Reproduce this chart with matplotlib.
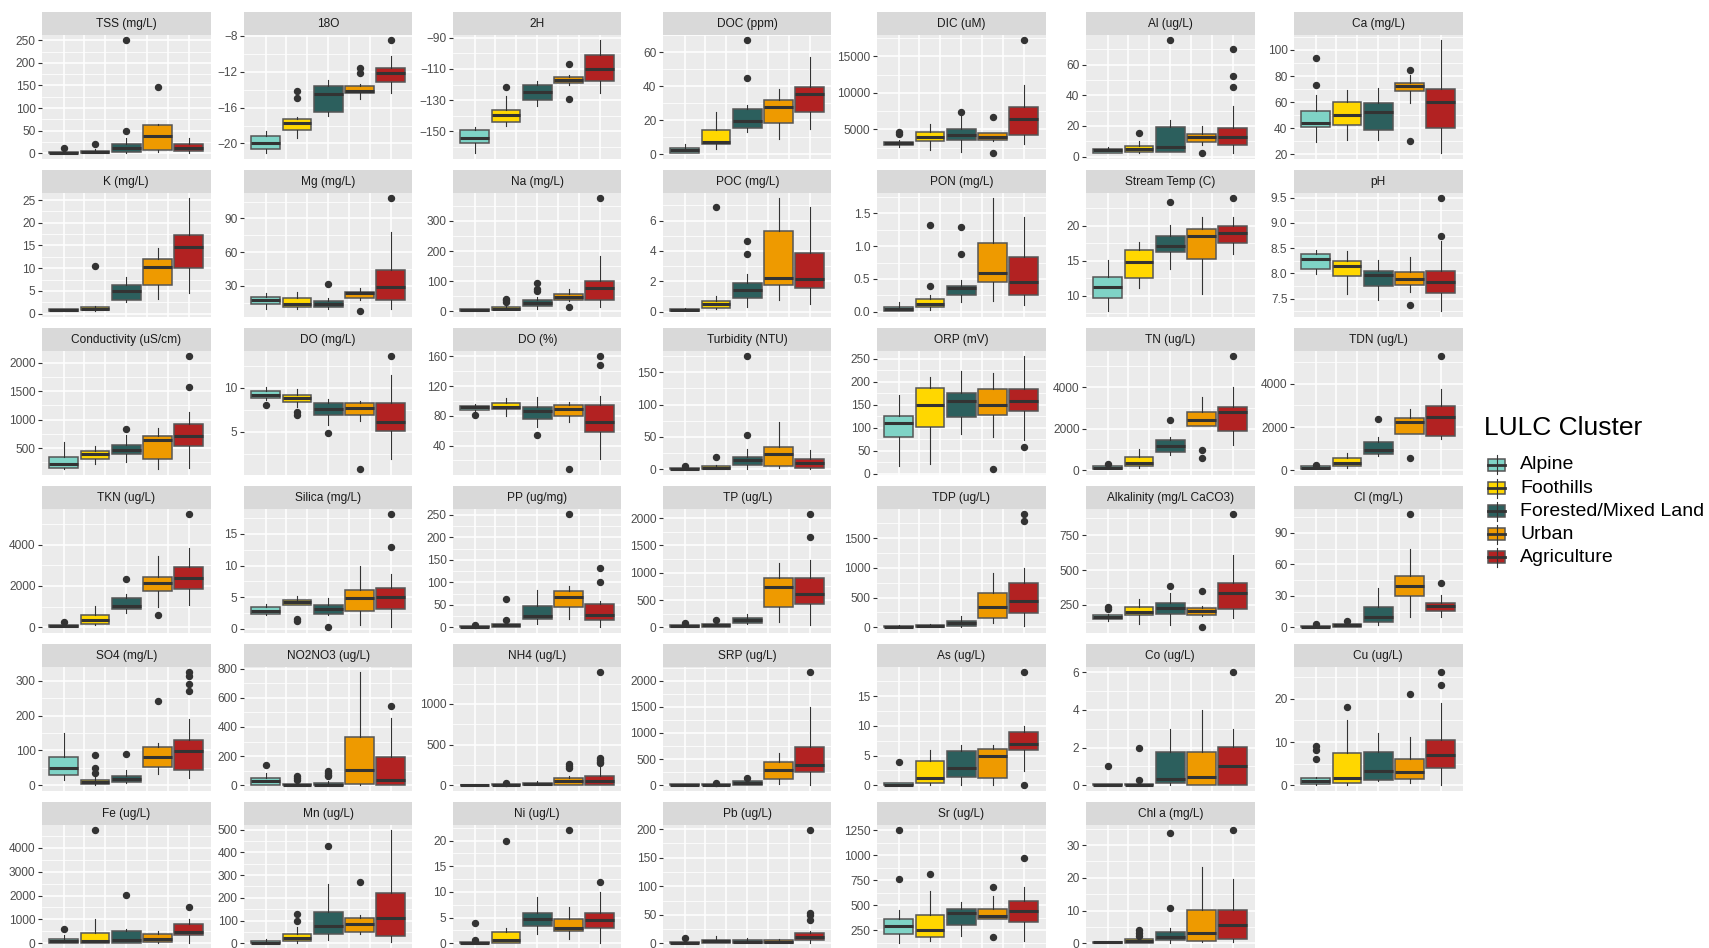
import matplotlib.pyplot as plt
from matplotlib.patches import Rectangle
import numpy as np

# LULC clusters and their fills
clusters = ["Alpine", "Foothills", "Forested/Mixed Land", "Urban", "Agriculture"]
cluster_colors = ["#7FD3C6", "#FFD700", "#2C5F5D", "#EE9A00", "#B22222"]

# box stats per cluster: (whisker low, q1, median, q3, whisker high, outliers)
TSS = [(0, 0.5, 1.5, 3, 6, [12]), (0, 1, 3, 6, 9, [21]), (0, 4, 11, 20, 33, [50, 250]),
       (4, 8, 38, 62, 64, [146]), (0, 5, 11, 21, 33, [])]
O18 = [(-21.1, -20.6, -20.0, -19.2, -18.6, []), (-19.35, -18.45, -17.75, -17.25, -17.0, [-14.9, -14.1]),
       (-16.9, -16.45, -14.5, -13.6, -12.9, []), (-15.1, -14.35, -14.1, -13.6, -13.4, [-12.1, -11.6]),
       (-14.35, -13.15, -12.1, -11.55, -10.25, [-8.5])]
H2 = [(-164.3, -157.8, -154.5, -149.3, -147.4, []), (-147, -144.1, -139.4, -136.4, -127.7, [-121.8]),
      (-133.8, -130.1, -125.1, -120.1, -117.5, []), (-120.5, -119.2, -117.3, -115.3, -114, [-129.6, -106.9]),
      (-125.3, -117.7, -109.7, -100.8, -91.5, [])]
DOC = [(0.4, 0.6, 2.1, 3.5, 5.7, []), (2.7, 5.9, 7.0, 14, 24.6, []), (13.1, 15.4, 19.5, 26.6, 28.7, [45, 67]),
       (8.8, 18, 27.6, 32, 38.5, []), (15, 24.8, 35.4, 39.3, 57.3, [])]
DIC = [(2520, 2890, 3120, 3300, 3490, [4360, 4680]), (2160, 3390, 3945, 4590, 5730, []),
       (1880, 3530, 4270, 5000, 6790, [7430]), (3440, 3530, 3945, 4450, 4540, [1700, 6650]),
       (2980, 4170, 6420, 8030, 11010, [17200])]
Al = [(2.2, 2.4, 4.1, 5.2, 6.1, []), (2.2, 3.0, 4.8, 6.9, 10.4, [15.4]), (3.0, 3.2, 6.1, 19.3, 23.8, [75.8]),
      (7.8, 9.7, 12.8, 15.0, 19.9, [2.4]), (2.6, 7.4, 12.8, 18.4, 32.9, [45.5, 52.6, 70.2])]
Ca = [(29.7, 41.3, 44.4, 53.3, 65.4, [73.1, 93.6]), (31, 42.6, 50.5, 60.5, 69, []),
      (31, 38.7, 52.6, 59.5, 70.5, []), (59.7, 68.2, 72.6, 74.9, 80.8, [30.5, 84.4]),
      (20.8, 40.3, 60.5, 69.7, 107.4, [])]
K = [(0.5, 0.6, 0.8, 1.0, 1.1, []), (0.66, 0.73, 1.1, 1.47, 1.76, [10.4]), (2.5, 3.0, 4.9, 6.3, 8.1, []),
     (3.2, 6.2, 10.3, 12.1, 14.5, []), (4.5, 10.0, 14.7, 17.2, 25.4, [])]
Mg = [(9.2, 14.3, 17.2, 20.2, 24.1, []), (9.2, 11.6, 14.0, 19.3, 24.7, []), (9.2, 11.0, 13.7, 16.6, 19.3, [31.8]),
      (17.8, 19.6, 23.5, 24.7, 28.2, [7.4]), (9.5, 17.2, 29.1, 44.6, 78.1, [108])]
Na = [(0, 0.5, 3.3, 7.7, 9, []), (4.4, 5, 8.8, 13.2, 17.6, [30, 36, 42]), (8.8, 16.5, 28.6, 37.4, 48, [67, 72.5, 93]),
      (35, 37.4, 48.4, 56, 73.6, [13.2]), (13.2, 37.4, 78, 102, 182, [375])]
POC = [(0.02, 0.04, 0.13, 0.2, 0.22, []), (0.18, 0.22, 0.48, 0.68, 1.03, [6.92]),
       (0.3, 0.88, 1.43, 1.89, 2.5, [3.82, 4.66]), (0.79, 1.76, 2.2, 5.3, 7.47, []),
       (0.48, 1.58, 2.13, 3.87, 6.88, [])]
PON = [(0.005, 0.015, 0.046, 0.077, 0.14, []), (0.03, 0.07, 0.11, 0.2, 0.26, [0.39, 1.32]),
       (0.14, 0.26, 0.36, 0.39, 0.49, [0.88, 1.29]), (0.16, 0.45, 0.59, 1.04, 1.73, []),
       (0.1, 0.26, 0.45, 0.84, 1.45, [])]
Temp = [(7.8, 9.67, 11.2, 12.67, 15.1, []), (11.1, 12.5, 14.8, 16.5, 17.7, []),
        (13.8, 16.3, 17.1, 18.5, 20.1, [23.3]), (10.3, 15.2, 18.5, 19.5, 21.3, []),
        (16.0, 17.5, 19.0, 19.9, 21.3, [23.9])]
pH = [(7.99, 8.09, 8.28, 8.39, 8.46, []), (7.59, 7.95, 8.15, 8.24, 8.44, []), (7.47, 7.76, 7.97, 8.05, 8.27, []),
      (7.63, 7.78, 7.89, 8.03, 8.32, [7.38]), (7.25, 7.62, 7.84, 8.04, 8.64, [8.75, 9.49])]
Cond = [(129, 147, 224, 341, 612, []), (224, 312, 394, 453, 541, []), (259, 394, 476, 559, 735, [829]),
        (129, 318, 647, 712, 859, []), (147, 541, 718, 929, 1129, [1576, 2112])]
DO_mg = [(8.6, 8.85, 9.24, 9.62, 10.1, [8.0]), (7.82, 8.43, 8.82, 9.2, 9.92, [6.95, 7.3]),
         (5.8, 6.9, 7.6, 8.24, 8.7, [4.85]), (6.26, 6.95, 7.75, 8.24, 8.5, [0.73]),
         (1.87, 5.04, 6.15, 8.24, 11.5, [13.6])]
DO_pct = [(85, 88.2, 91.4, 93.6, 96.3, [81.4]), (80.5, 88.6, 91.8, 97.2, 104, []),
          (65.7, 76, 86, 92.3, 105.8, [54.4]), (72.4, 80.5, 88.6, 94, 98.6, [8]),
          (22, 58, 72, 94, 106.7, [149, 160.3])]
Turb = [(0, 0.1, 0.5, 2.6, 3.5, [4.6]), (0, 0.2, 2, 4.6, 6, [19]), (1, 7.2, 14.9, 18.5, 31.3, [53.4, 174.6]),
        (2.6, 5.1, 24, 34, 73, []), (1, 2.6, 9.2, 16.4, 29.8, [])]
ORP = [(18.2, 80.7, 111, 125, 170.8, []), (21.8, 102.5, 150.4, 186, 210.8, []),
       (85.8, 122.8, 157.7, 175, 223.8, []), (80.7, 127.9, 150.4, 183.9, 220, [10]),
       (72.7, 135.9, 159.2, 183.9, 255.8, [58])]
TN = [(32, 48, 112, 177, 209, [305]), (96, 177, 337, 626, 1028, []), (723, 883, 1140, 1445, 1606, [2425]),
      (2120, 2120, 2393, 2810, 3549, [594, 980]), (1204, 1879, 2778, 3051, 3999, [5493])]
TDN = [(40, 62, 123, 185, 215, [262]), (123, 200, 354, 554, 800, []), (646, 738, 954, 1323, 1538, [2369]),
       (1677, 1677, 2246, 2400, 2830, [569]), (1446, 1600, 2446, 2984, 3768, [5275])]
TKN = [(0, 0, 65, 129, 161, [274]), (97, 177, 339, 613, 1016, []), (710, 871, 1048, 1435, 1597, [2355]),
       (1000, 1742, 2161, 2452, 3436, [613]), (1097, 1855, 2387, 2936, 3855, [5468])]
Silica = [(2.17, 2.38, 2.91, 3.54, 3.97, []), (3.76, 3.76, 4.18, 4.6, 5.24, [1.32, 1.64]),
          (2.28, 2.38, 3.12, 3.81, 4.92, [0.26]), (0.63, 2.91, 4.87, 6.14, 9.9, []),
          (0.26, 3.17, 5.03, 6.46, 8.73, [12.96, 18.1])]
PP = [(0, 0, 0.7, 3, 4, [5.9]), (0, 0.7, 4.5, 7.4, 10, [15.6, 63.8]), (7.4, 17.8, 25.2, 47.5, 83, []),
      (17.8, 44.5, 67.5, 81.6, 92, [251.5]), (1.5, 16.3, 27.4, 51.2, 58.6, [101, 132.8])]
TP = [(0, 6, 30, 49, 60, [73]), (0, 12, 37, 61, 80, [140]), (61, 79, 134, 177, 238, []),
      (103, 371, 737, 895, 1175, []), (37, 432, 603, 895, 1236, [1650, 2070])]
TDP = [(0, 0, 11, 28, 35, []), (0, 0, 17, 45, 50, []), (11, 28, 72, 106, 190, []),
       (67, 150, 340, 580, 920, []), (28, 245, 435, 747, 998, [1796, 1902])]
Alk = [(137, 149, 163, 175, 187, [221, 236]), (113, 178, 202, 238, 293, []), (106, 185, 228, 264, 339, [385]),
       (173, 178, 207, 231, 240, [89, 353]), (154, 221, 334, 404, 606, [901])]
Cl = [(0, 0, 0.6, 1.6, 2, [3.2]), (0.3, 0.6, 1.9, 3.2, 4, [5.7]), (1.9, 4.8, 9.8, 19.6, 37.4, []),
      (10.1, 29.8, 39.6, 48.5, 74.8, [107.7]), (9.8, 15.2, 20, 23.1, 30.7, [42.1])]
SO4 = [(14.3, 28.6, 50.5, 81.9, 151, []), (0, 2.9, 8.6, 15.2, 25, [34.3, 48.6, 87.6]),
       (6.7, 10.5, 18, 26.7, 44.8, [90.5]), (31.4, 52, 81, 111, 121, [243]),
       (21.9, 42.9, 98, 128.6, 189.5, [270, 291, 313, 324])]
NO2NO3 = [(0, 2.3, 27.5, 52.7, 87, [142]), (0, 0, 2.3, 9, 20, [34, 48, 64]),
          (0, 0, 4.6, 14, 30, [62, 71, 85, 98]), (0, 9, 108, 328, 775, []),
          (0, 0, 39, 192.5, 461, [545])]
NH4 = [(0, 0, 2, 8, 12, []), (0, 0, 4, 16, 20, [25]), (0, 0, 12, 33, 49, []),
       (0, 8, 57, 86, 115, [213, 238, 266]), (0, 4, 49, 115, 234, [275, 287, 307, 336, 1389])]
SRP = [(0, 0, 6, 19, 25, []), (0, 0, 13, 32, 40, [51]), (0, 6, 38, 77, 115, [147]),
       (26, 128, 295, 455, 609, []), (13, 250, 397, 724, 1500, [2160])]
As = [(0, 0, 0.1, 0.34, 0.4, [4.0]), (0.1, 0.34, 1.2, 4.03, 5.93, []), (0.05, 1.45, 2.9, 5.7, 6.8, []),
      (0.05, 1.29, 4.87, 6.04, 6.8, []), (2.35, 5.93, 7.0, 8.95, 9.9, [0.05, 19.0])]
Co = [(0, 0, 0.02, 0.05, 0.06, [1.0]), (0, 0, 0.04, 0.09, 0.1, [0.27, 2.0]), (0.02, 0.14, 0.32, 1.75, 3.0, []),
      (0, 0.04, 0.44, 1.75, 4.0, []), (0, 0, 1.03, 2.02, 3.0, [6.0])]
Cu = [(0, 0.3, 0.92, 1.77, 2.0, [6.1, 8.15, 9.1]), (0.15, 0.46, 1.7, 7.54, 15.1, [18.1]),
      (0.92, 1.23, 3.38, 7.77, 12.0, []), (0.46, 1.38, 3.15, 6.15, 11.1, [21.1]),
      (0, 4.0, 7.1, 10.5, 19.0, [23.1, 26.1])]
Fe = [(0, 0, 98, 195, 349, [586]), (0, 0, 84, 419, 1004, [4729]), (0, 0, 126, 516, 586, [2009]),
      (28, 56, 167, 391, 530, []), (28, 335, 460, 823, 1004, [1507])]
Mn = [(0, 0, 3, 10, 19, []), (3, 9, 23.5, 40, 70, [97, 131]), (13, 43, 76, 138, 259, [429]),
      (40, 48.5, 85, 113, 125, [269]), (7.4, 34, 113, 220.6, 497, [])]
Ni = [(0, 0, 0.13, 0.32, 0.4, [0.58, 4.0]), (0, 0.13, 0.65, 2.14, 2.9, [20]), (1.75, 3.31, 4.74, 5.84, 8.96, []),
      (0.9, 2.4, 3.0, 4.8, 7.0, [22]), (0, 3.0, 4.55, 6.0, 10, [12])]
Pb = [(0, 0, 0.6, 3, 4, [10]), (0, 0, 4.1, 5.3, 12.3, []), (0, 0, 2.9, 5.3, 9.4, []),
      (0, 0, 1.8, 5.3, 8, []), (0.6, 5.3, 11.7, 18.2, 22, [40.5, 50.4, 53.4, 198])]
Sr = [(119, 210, 293, 364, 451, [762, 1251]), (146, 186, 253, 401, 645, [816]), (196, 307, 427, 464, 528, []),
      (360, 360, 397, 464, 588, [186, 679]), (146, 330, 441, 545, 679, [977])]
Chla = [(0, 0, 0.3, 0.5, 0.6, []), (0, 0.2, 0.7, 1.2, 1.6, [2.3, 3.05, 4.07]),
        (0.1, 0.92, 2.03, 3.56, 4.68, [10.8, 33.7]), (0.3, 0.6, 3.15, 10.3, 23.3, []),
        (0.4, 1.42, 5.5, 10.1, 19.6, [34.5])]

# facet titles, their stats and y breaks
panels = [
    ("TSS (mg/L)", TSS, [0, 50, 100, 150, 200, 250]),
    ("18O", O18, [-20, -16, -12, -8]),
    ("2H", H2, [-150, -130, -110, -90]),
    ("DOC (ppm)", DOC, [0, 20, 40, 60]),
    ("DIC (uM)", DIC, [5000, 10000, 15000]),
    ("Al (ug/L)", Al, [0, 20, 40, 60]),
    ("Ca (mg/L)", Ca, [20, 40, 60, 80, 100]),
    ("K (mg/L)", K, [0, 5, 10, 15, 20, 25]),
    ("Mg (mg/L)", Mg, [30, 60, 90]),
    ("Na (mg/L)", Na, [0, 100, 200, 300]),
    ("POC (mg/L)", POC, [0, 2, 4, 6]),
    ("PON (mg/L)", PON, [0.0, 0.5, 1.0, 1.5]),
    ("Stream Temp (C)", Temp, [10, 15, 20]),
    ("pH", pH, [7.5, 8.0, 8.5, 9.0, 9.5]),
    ("Conductivity (uS/cm)", Cond, [500, 1000, 1500, 2000]),
    ("DO (mg/L)", DO_mg, [5, 10]),
    ("DO (%)", DO_pct, [40, 80, 120, 160]),
    ("Turbidity (NTU)", Turb, [0, 50, 100, 150]),
    ("ORP (mV)", ORP, [0, 50, 100, 150, 200, 250]),
    ("TN (ug/L)", TN, [0, 2000, 4000]),
    ("TDN (ug/L)", TDN, [0, 2000, 4000]),
    ("TKN (ug/L)", TKN, [0, 2000, 4000]),
    ("Silica (mg/L)", Silica, [0, 5, 10, 15]),
    ("PP (ug/mg)", PP, [0, 50, 100, 150, 200, 250]),
    ("TP (ug/L)", TP, [0, 500, 1000, 1500, 2000]),
    ("TDP (ug/L)", TDP, [0, 500, 1000, 1500]),
    ("Alkalinity (mg/L CaCO3)", Alk, [250, 500, 750]),
    ("Cl (mg/L)", Cl, [0, 30, 60, 90]),
    ("SO4 (mg/L)", SO4, [0, 100, 200, 300]),
    ("NO2NO3 (ug/L)", NO2NO3, [0, 200, 400, 600, 800]),
    ("NH4 (ug/L)", NH4, [0, 500, 1000]),
    ("SRP (ug/L)", SRP, [0, 500, 1000, 1500, 2000]),
    ("As (ug/L)", As, [0, 5, 10, 15]),
    ("Co (ug/L)", Co, [0, 2, 4, 6]),
    ("Cu (ug/L)", Cu, [0, 10, 20]),
    ("Fe (ug/L)", Fe, [0, 1000, 2000, 3000, 4000]),
    ("Mn (ug/L)", Mn, [0, 100, 200, 300, 400, 500]),
    ("Ni (ug/L)", Ni, [0, 5, 10, 15, 20]),
    ("Pb (ug/L)", Pb, [0, 50, 100, 150, 200]),
    ("Sr (ug/L)", Sr, [250, 500, 750, 1000, 1250]),
    ("Chl a (mg/L)", Chla, [0, 10, 20, 30]),
]

W, H = 1709, 948
plt.rcParams['font.family'] = ['Liberation Sans', 'DejaVu Sans']
fig = plt.figure(figsize=(W / 100, H / 100), dpi=100)


def px_rect(x0, y0, x1, y1):
    # pixel box with origin top-left -> figure fraction [l, b, w, h]
    return [x0 / W, 1 - y1 / H, (x1 - x0) / W, (y1 - y0) / H]


def fmt(v, ticks):
    if all(float(t).is_integer() for t in ticks):
        s = str(int(v))
    else:
        s = f"{v:.1f}"
    return s.replace("-", "\u2212")


col_left = [42, 244, 453, 663, 877, 1086, 1294]
panel_w = 168.5
strip_h = 22.6
row_pitch = 158
panel_h = 147

for i, (title, stats, ticks) in enumerate(panels):
    r, c = divmod(i, 7)
    top = 12 + row_pitch * r
    x0 = col_left[c]

    # strip
    sax = fig.add_axes(px_rect(x0, top, x0 + panel_w, top + strip_h))
    sax.set_facecolor('#D9D9D9')
    sax.set_xticks([])
    sax.set_yticks([])
    for s in sax.spines.values():
        s.set_visible(False)
    sax.text(0.5, 0.48, title, ha='center', va='center', fontsize=8.6, color='#1A1A1A')

    # panel
    ax = fig.add_axes(px_rect(x0, top + strip_h, x0 + panel_w, top + panel_h))
    ax.set_facecolor('#EBEBEB')
    for s in ax.spines.values():
        s.set_visible(False)

    bstats = [dict(whislo=s[0], q1=s[1], med=s[2], q3=s[3], whishi=s[4], fliers=s[5]) for s in stats]
    art = ax.bxp(bstats, positions=range(1, 6), widths=0.92, patch_artist=True, showcaps=False,
                 boxprops=dict(edgecolor='#555555', linewidth=1.1),
                 medianprops=dict(color='#333333', linewidth=2.2, solid_capstyle='butt'),
                 whiskerprops=dict(color='#333333', linewidth=0.8),
                 flierprops=dict(marker='o', markerfacecolor='#333333', markeredgecolor='#333333',
                                 markersize=4.3))
    for patch, col in zip(art['boxes'], cluster_colors):
        patch.set_facecolor(col)

    # ggplot-like 5% expansion of the data range
    lo = min(min([s[0]] + list(s[5])) for s in stats)
    hi = max(max([s[4]] + list(s[5])) for s in stats)
    pad = 0.05 * (hi - lo)
    ax.set_ylim(lo - pad, hi + pad)
    ax.set_xlim(0.31, 5.69)

    ax.set_yticks(ticks)
    ax.set_yticklabels([fmt(t, ticks) for t in ticks])
    step = ticks[1] - ticks[0]
    minor = [ticks[0] - step / 2] + [t + step / 2 for t in ticks]
    minor = [m for m in minor if lo - pad < m < hi + pad]
    ax.set_yticks(minor, minor=True)

    ax.set_xticks(np.linspace(1, 5, 7))
    ax.set_xticklabels([])
    ax.tick_params(axis='x', length=0, labelbottom=False)
    ax.tick_params(axis='y', which='major', length=2.7, width=0.8, color='#333333',
                   labelcolor='#4D4D4D', labelsize=8.6, pad=2)
    ax.tick_params(axis='y', which='minor', length=0)
    ax.grid(True, which='major', axis='both', color='white', linewidth=1.1)
    ax.grid(True, which='minor', axis='y', color='white', linewidth=0.55)
    ax.set_axisbelow(True)

# legend drawn in pixel coordinates
lax = fig.add_axes(px_rect(1478, 405, W, 580))
lax.set_xlim(1478, W)
lax.set_ylim(580, 405)
lax.axis('off')
lax.text(1484, 428, "LULC Cluster", fontsize=19, color='black', va='center', ha='left')
for k, (name, col) in enumerate(zip(clusters, cluster_colors)):
    yc = 465 + 23.1 * k
    lax.plot([1496.5, 1496.5], [yc - 9.5, yc + 9.5], color='#333333', lw=0.8)
    lax.add_patch(Rectangle((1488, yc - 6), 17, 12, facecolor=col, edgecolor='#555555', lw=1.1))
    lax.plot([1488, 1505], [yc, yc], color='#333333', lw=2.0)
    lax.text(1520, yc, name, fontsize=14, color='black', va='center', ha='left')

fig.savefig("out.png", dpi=100)
